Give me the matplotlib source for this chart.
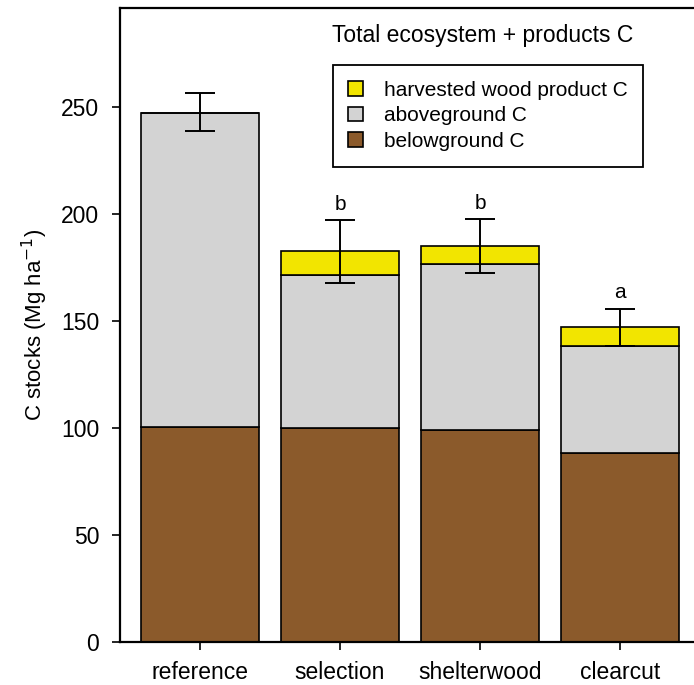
import matplotlib
matplotlib.use('Agg')
import matplotlib.pyplot as plt
import numpy as np

plt.rcParams['font.family'] = ['Liberation Sans', 'DejaVu Sans']

# data (Mg C per ha)
treatments = ['reference', 'selection', 'shelterwood', 'clearcut']
belowground = [100.6, 100.0, 98.9, 88.2]
aboveground_top = [247.1, 171.2, 176.5, 138.0]
total_top = [247.1, 182.4, 184.7, 146.9]
err_center = [247.3, 182.3, 184.9, 146.9]
err_half = [8.8, 14.6, 12.6, 8.7]
letters = ['', 'b', 'b', 'a']

aboveground = [a - b for a, b in zip(aboveground_top, belowground)]
hwp = [t - a for t, a in zip(total_top, aboveground_top)]

fig = plt.figure(figsize=(6.94, 6.85), dpi=100)
ax = fig.add_axes([120/694, 43/685, 580/694, 634/685])

x = np.arange(1, len(treatments) + 1)
w = 0.84
brown = '#8B5A2B'
grey = '#D3D3D3'
yellow = '#F2E500'

b1 = ax.bar(x, belowground, w, color=brown, edgecolor='black', linewidth=1.2, zorder=2)
b2 = ax.bar(x, aboveground, w, bottom=belowground, color=grey, edgecolor='black', linewidth=1.2, zorder=2)
b3 = ax.bar(x, hwp, w, bottom=aboveground_top, color=yellow, edgecolor='black', linewidth=1.2, zorder=2)

ax.errorbar(x, err_center, yerr=err_half, fmt='none', ecolor='black', elinewidth=1.4,
            capsize=11, capthick=1.4, zorder=3)

for xi, c, e, lab in zip(x, err_center, err_half, letters):
    if lab:
        ax.text(xi, c + e + 3, lab, ha='center', va='bottom', fontsize=15)

ax.set_xlim(0.43, 4.57)
ax.set_ylim(0, 296)
ax.set_xticks(x)
ax.set_xticklabels(treatments, fontsize=16.5)
ax.set_yticks([0, 50, 100, 150, 200, 250])
ax.tick_params(axis='y', labelsize=16.5, direction='out', length=6, width=1.2, pad=9)
ax.tick_params(axis='x', direction='out', length=6, width=1.2, pad=8)
for s in ax.spines.values():
    s.set_linewidth(1.6)

ax.set_ylabel('C stocks (Mg ha$^{-1}$)', fontsize=16, labelpad=8)

ax.text(0.626, 0.957, 'Total ecosystem + products C', transform=ax.transAxes,
        ha='center', va='center', fontsize=16.5)

leg = ax.legend([b3, b2, b1], ['harvested wood product C', 'aboveground C', 'belowground C'],
                loc='upper left', bbox_to_anchor=(0.367, 0.91), fontsize=15,
                frameon=True, fancybox=False, edgecolor='black', framealpha=1,
                handlelength=0.7, handleheight=0.7, handletextpad=1.0,
                labelspacing=0.32, borderpad=0.75, borderaxespad=0)
leg.get_frame().set_linewidth(1.3)

fig.savefig('out.png', dpi=100)
